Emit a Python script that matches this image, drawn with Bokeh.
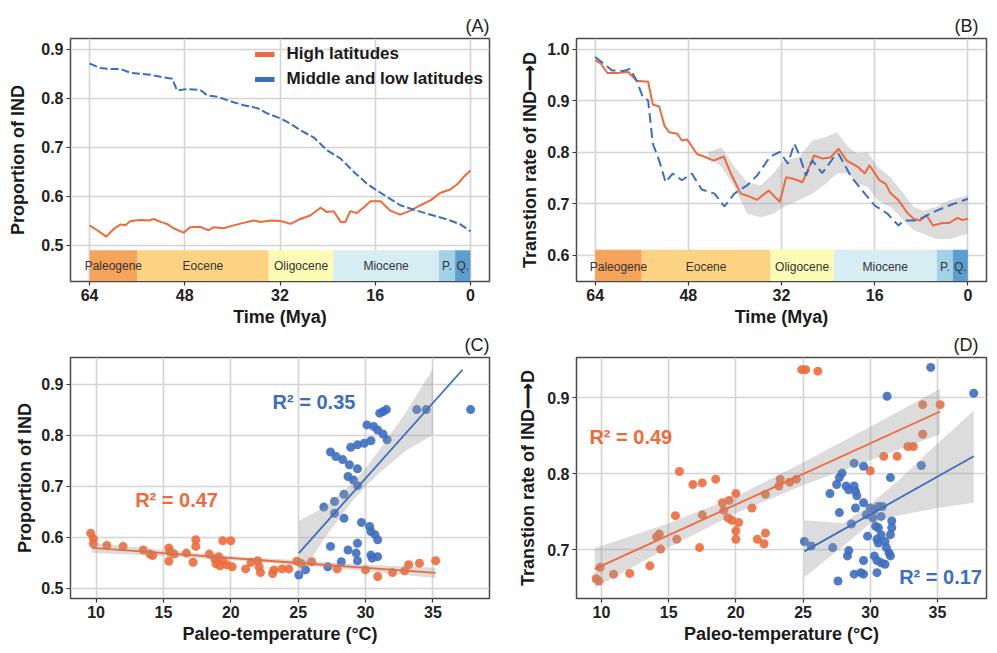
from bokeh.plotting import figure
from bokeh.layouts import column, row
from bokeh.models import Range1d, FixedTicker, PrintfTickFormatter, Legend, LegendItem
from bokeh.core.properties import value
from bokeh.embed import file_html
from bokeh.resources import INLINE

# ---------------- data ----------------
# Geological epochs (Mya)
epoch_names = ["Paleogene", "Eocene", "Oligocene", "Miocene", "P.", "Q."]
epoch_start = [64, 56.0, 33.9, 23.03, 5.33, 2.58]
epoch_end = [56.0, 33.9, 23.03, 5.33, 2.58, 0]
epoch_colors = ["#F6A35C", "#FDD383", "#FEFBB4", "#D6EDF4", "#A3D1E6", "#5C9FCE"]
time_ticks = [64, 48, 32, 16, 0]

# (A) proportion of IND
a_high_t = [64, 62.7, 61.2, 59.9, 58.8, 58.0, 57.1, 55.4, 54.0, 53.2, 52.1, 51.0, 49.9, 48.2, 47.1,
            45.4, 44.0, 43.2, 41.5, 39.8, 38.1, 36.4, 35.3, 33.6, 31.9, 30.2, 28.6, 26.9, 25.2, 24.1,
            23.0, 21.8, 21.0, 20.2, 19.1, 17.9, 16.8, 15.1, 13.5, 11.8, 10.1, 8.4, 6.7, 5.1, 3.4,
            2.0, 1.2, 0]
a_high = [0.541, 0.531, 0.518, 0.534, 0.543, 0.541, 0.550, 0.552, 0.551, 0.554, 0.548, 0.544, 0.535,
          0.526, 0.537, 0.538, 0.531, 0.537, 0.535, 0.541, 0.546, 0.551, 0.548, 0.551, 0.550, 0.544,
          0.554, 0.561, 0.577, 0.568, 0.570, 0.548, 0.548, 0.570, 0.566, 0.578, 0.590, 0.590, 0.571,
          0.563, 0.571, 0.582, 0.592, 0.607, 0.614, 0.627, 0.639, 0.653]
a_mid_t = [64, 62.2, 60.5, 58.8, 57.1, 55.4, 53.8, 52.1, 50.1, 49.3, 47.6, 45.4, 44.2, 42.5, 39.8,
           38.1, 35.8, 34.1, 31.9, 30.2, 28.6, 26.3, 24.1, 21.8, 19.6, 17.4, 15.7, 14.0, 11.8, 9.0,
           6.2, 3.4, 1.7, 0]
a_mid = [0.871, 0.862, 0.860, 0.860, 0.852, 0.850, 0.848, 0.844, 0.840, 0.816, 0.819, 0.817, 0.806,
         0.803, 0.792, 0.786, 0.780, 0.769, 0.759, 0.748, 0.735, 0.720, 0.694, 0.677, 0.650, 0.626,
         0.612, 0.599, 0.582, 0.571, 0.561, 0.551, 0.543, 0.529]

# (B) transition rate IND -> D
b_high_t = [64, 63.0, 61.9, 60.3, 58.3, 56.9, 54.9, 54.1, 53.0, 52.1, 51.3, 49.9, 49.1, 48.2, 46.5,
            45.1, 43.7, 41.9, 40.7, 39.0, 37.9, 36.2, 34.2, 32.3, 31.2, 30.0, 28.4, 26.4, 25.0, 23.6,
            22.2, 20.8, 18.9, 17.7, 16.9, 15.2, 14.1, 13.3, 11.9, 10.5, 9.3, 8.2, 7.1, 6.0, 4.3,
            3.2, 1.8, 1.0, 0]
b_high = [0.979, 0.972, 0.954, 0.954, 0.956, 0.939, 0.937, 0.893, 0.889, 0.852, 0.839, 0.836, 0.823,
          0.825, 0.797, 0.791, 0.784, 0.792, 0.759, 0.720, 0.716, 0.708, 0.726, 0.704, 0.752, 0.749,
          0.742, 0.794, 0.788, 0.790, 0.807, 0.784, 0.772, 0.759, 0.775, 0.746, 0.739, 0.721, 0.707,
          0.684, 0.671, 0.668, 0.678, 0.658, 0.663, 0.663, 0.673, 0.669, 0.671]
b_mid_t = [64, 62.5, 61.1, 59.1, 58.0, 56.9, 55.8, 54.9, 54.1, 53.0, 51.9, 50.7, 49.1, 47.4, 45.7,
           43.5, 41.8, 40.1, 37.9, 36.2, 34.0, 32.3, 30.9, 29.8, 29.0, 27.8, 26.7, 25.0, 22.8, 22.2,
           20.0, 17.7, 16.0, 13.8, 11.9, 11.0, 8.8, 7.7, 6.0, 3.2, 0]
b_mid = [0.985, 0.972, 0.959, 0.958, 0.962, 0.940, 0.907, 0.901, 0.817, 0.784, 0.742, 0.759, 0.746,
         0.759, 0.728, 0.720, 0.695, 0.720, 0.736, 0.755, 0.791, 0.801, 0.778, 0.817, 0.797, 0.755,
         0.784, 0.760, 0.794, 0.797, 0.752, 0.720, 0.697, 0.681, 0.658, 0.668, 0.668, 0.674, 0.684,
         0.697, 0.710]
b_band_t = [44.6, 42.3, 40.1, 37.9, 35.6, 33.4, 31.7, 29.0, 26.7, 24.4, 22.5, 20.5, 18.9, 17.2, 15.5,
            13.3, 11.0, 9.3, 7.7, 5.4, 3.2, 0]
b_band_hi = [0.801, 0.810, 0.772, 0.742, 0.736, 0.759, 0.784, 0.791, 0.823, 0.830, 0.839, 0.810, 0.797,
             0.801, 0.772, 0.752, 0.720, 0.694, 0.687, 0.694, 0.707, 0.717]
b_band_lo = [0.791, 0.772, 0.733, 0.681, 0.674, 0.681, 0.694, 0.707, 0.720, 0.739, 0.759, 0.759, 0.739,
             0.733, 0.707, 0.694, 0.668, 0.649, 0.642, 0.632, 0.632, 0.642]

# (C) proportion of IND vs paleo-temperature
c_high_temp = [9.6, 9.8, 9.8, 10.8, 12.0, 13.5, 14.0, 14.2, 15.4, 15.5, 15.4, 15.8, 16.7, 17.2, 17.4,
               17.4, 18.4, 18.8, 19.1, 18.9, 19.2, 19.4, 20.0, 19.4, 19.7, 20.1, 21.1, 21.5, 22.0, 22.1,
               22.2, 23.1, 23.2, 23.8, 24.3, 24.9, 25.2, 26.0, 27.9, 30.0, 30.9, 32.0, 32.9, 33.2, 34.0,
               35.2]
c_high = [0.608, 0.597, 0.587, 0.584, 0.582, 0.575, 0.567, 0.564, 0.579, 0.571, 0.553, 0.567, 0.569,
          0.551, 0.595, 0.582, 0.567, 0.558, 0.562, 0.548, 0.544, 0.593, 0.593, 0.554, 0.546, 0.542,
          0.538, 0.551, 0.554, 0.542, 0.531, 0.529, 0.536, 0.538, 0.538, 0.553, 0.549, 0.552, 0.538,
          0.536, 0.523, 0.531, 0.534, 0.546, 0.549, 0.554]
c_mid_temp = [25.05, 25.55, 27.2, 28.2, 27.4, 28.7, 29.4, 29.3, 29.4, 30.4, 30.9, 30.5, 29.7, 30.3, 30.4,
              30.7, 30.9, 28.4, 27.7, 26.9, 27.7, 28.4, 28.7, 29.1, 29.4, 29.4, 28.8, 28.3, 27.8, 27.4,
              28.9, 29.4, 29.9, 30.4, 30.1, 30.6, 30.9, 31.3, 31.6, 31.05, 31.3, 31.55, 33.8, 34.5, 37.8]
c_mid = [0.526, 0.536, 0.542, 0.552, 0.582, 0.575, 0.588, 0.569, 0.554, 0.565, 0.562, 0.559, 0.629,
         0.621, 0.611, 0.605, 0.595, 0.637, 0.647, 0.659, 0.670, 0.684, 0.719, 0.712, 0.701, 0.734,
         0.742, 0.752, 0.758, 0.767, 0.776, 0.781, 0.784, 0.789, 0.820, 0.817, 0.810, 0.802, 0.791,
         0.843, 0.846, 0.850, 0.850, 0.850, 0.850]
c_high_fit_x = [9.7, 35.2]
c_high_fit_y = [0.579, 0.530]
c_high_band_x = [9.7, 15, 20, 25, 30, 35.2]
c_high_band_lo = [0.569, 0.563, 0.555, 0.545, 0.534, 0.520]
c_high_band_hi = [0.589, 0.575, 0.563, 0.555, 0.546, 0.540]
c_mid_fit_x = [25.05, 37.2]
c_mid_fit_y = [0.569, 0.928]
c_mid_band_x = [25.05, 27, 29, 30, 31, 33, 35]
c_mid_band_lo = [0.520, 0.600, 0.670, 0.700, 0.725, 0.770, 0.800]
c_mid_band_hi = [0.632, 0.660, 0.705, 0.735, 0.770, 0.845, 0.930]
c_r2 = ["R\u00b2 = 0.47", "R\u00b2 = 0.35"]

# (D) transition rate vs paleo-temperature
d_high_temp = [9.6, 9.8, 9.9, 10.9, 12.1, 13.6, 14.4, 14.1, 14.3, 15.6, 15.5, 15.8, 16.8, 17.5, 17.3,
               17.5, 18.5, 19.0, 19.5, 19.1, 19.4, 19.7, 20.2, 20.0, 20.0, 20.0, 21.2, 21.6, 22.1, 22.2,
               22.2, 23.2, 23.3, 24.0, 24.5, 24.9, 25.2, 26.1, 33.9, 35.2, 33.9, 32.8, 33.2, 31.0, 32.0,
               30.0]
d_high = [0.662, 0.659, 0.677, 0.668, 0.669, 0.679, 0.701, 0.717, 0.721, 0.714, 0.745, 0.803, 0.786,
          0.788, 0.703, 0.746, 0.793, 0.762, 0.765, 0.752, 0.742, 0.739, 0.736, 0.774, 0.725, 0.714,
          0.755, 0.714, 0.708, 0.722, 0.773, 0.784, 0.793, 0.789, 0.793, 0.937, 0.937, 0.935, 0.891,
          0.891, 0.852, 0.836, 0.836, 0.823, 0.823, 0.804]
d_mid_temp = [34.5, 37.7, 31.25, 33.8, 31.5, 29.5, 28.8, 27.9, 27.7, 27.5, 28.2, 28.4, 28.8, 28.9, 29.0,
              27.0, 27.7, 28.6, 28.9, 29.5, 30.0, 30.3, 30.6, 30.9, 29.7, 30.2, 30.8, 30.4, 30.6, 31.6,
              31.6, 31.5, 30.8, 30.5, 30.6, 31.1, 29.8, 25.1, 25.6, 27.2, 28.4, 28.3, 31.2, 31.4, 31.5,
              29.5, 30.3, 30.5, 30.8, 31.1, 30.5, 29.3, 28.8, 29.5, 27.6]
d_mid = [0.940, 0.906, 0.902, 0.811, 0.795, 0.810, 0.814, 0.801, 0.795, 0.786, 0.784, 0.779, 0.784,
         0.777, 0.771, 0.774, 0.749, 0.734, 0.755, 0.762, 0.755, 0.753, 0.757, 0.757, 0.746, 0.742,
         0.744, 0.731, 0.729, 0.738, 0.729, 0.720, 0.720, 0.714, 0.709, 0.711, 0.718, 0.711, 0.705,
         0.703, 0.699, 0.692, 0.703, 0.696, 0.692, 0.686, 0.692, 0.686, 0.683, 0.681, 0.670, 0.670,
         0.668, 0.668, 0.659]
d_high_fit_x = [9.5, 35.2]
d_high_fit_y = [0.675, 0.882]
d_high_band_x = [9.5, 15, 20, 25, 30, 35.2]
d_high_band_lo = [0.650, 0.703, 0.748, 0.785, 0.818, 0.852]
d_high_band_hi = [0.702, 0.735, 0.770, 0.815, 0.862, 0.912]
d_mid_fit_x = [25.1, 37.7]
d_mid_fit_y = [0.698, 0.823]
d_mid_band_x = [25.1, 28, 30, 32, 35, 37.7]
d_mid_band_lo = [0.664, 0.705, 0.735, 0.745, 0.755, 0.762]
d_mid_band_hi = [0.739, 0.735, 0.760, 0.790, 0.840, 0.883]
d_r2 = ["R\u00b2 = 0.49", "R\u00b2 = 0.17"]

legend_labels = ["High latitudes", "Middle and low latitudes"]

# ---------------- styling ----------------
FONT = "Liberation Sans"
RED = "#EE6A3B"
BLUE = "#3C6EBF"
BAND = "#9A9A9A"
RATE_LABEL = "Transtion rate of IND\u27f6D"


def make_fig(w, h, xr, yr, title, bl, br, bt, bb, xlab, ylab, xticks, yticks, ystand):
    p = figure(width=w, height=h, x_range=Range1d(*xr), y_range=Range1d(*yr),
               output_backend="svg", toolbar_location=None, tools="",
               min_border_left=bl, min_border_right=br, min_border_top=bt, min_border_bottom=bb,
               title=title)
    p.title.align = "right"
    p.title.text_font = FONT
    p.title.text_font_size = "18px"
    p.title.text_font_style = "normal"
    p.title.text_color = "#222222"
    p.title.standoff = 5
    p.xaxis.axis_label = xlab
    p.yaxis.axis_label = ylab
    p.xaxis.ticker = FixedTicker(ticks=xticks)
    p.yaxis.ticker = FixedTicker(ticks=yticks)
    p.yaxis.formatter = PrintfTickFormatter(format="%.1f")
    p.xaxis.formatter = PrintfTickFormatter(format="%d")
    for ax in (p.xaxis, p.yaxis):
        ax.axis_label_text_font = FONT
        ax.axis_label_text_font_size = "18px"
        ax.axis_label_text_font_style = "bold"
        ax.axis_label_text_color = "#1a1a1a"
        ax.major_label_text_font = FONT
        ax.major_label_text_font_size = "16px"
        ax.major_label_text_font_style = "bold"
        ax.major_label_text_color = "#222222"
        ax.axis_line_color = None
        ax.major_tick_in = 0
        ax.major_tick_out = 4
        ax.major_tick_line_color = "#333333"
        ax.major_tick_line_width = 1.2
        ax.minor_tick_in = 0
        ax.minor_tick_out = 0
        ax.major_label_standoff = 3
    p.xaxis.axis_label_standoff = 3
    p.yaxis.axis_label_standoff = ystand
    p.grid.grid_line_color = "#D4D4D4"
    p.grid.grid_line_width = 1.6
    p.outline_line_color = "#4a4a4a"
    p.outline_line_width = 1.5
    p.background_fill_color = "white"
    p.border_fill_color = "white"
    return p


def add_epochs(p, ytop, ybot, ytext):
    p.quad(left=epoch_start, right=epoch_end, top=ytop, bottom=ybot,
           fill_color=epoch_colors, line_color=None)
    mids = [(a + b) / 2 for a, b in zip(epoch_start, epoch_end)]
    p.text(x=mids, y=[ytext] * len(mids), text=epoch_names, text_align="center",
           text_baseline="middle", text_font=value(FONT), text_font_size="12px",
           text_color="#333333")


# ---------------- (A) ----------------
pA = make_fig(500, 330, (67.2, -3.2), (0.4265, 0.922), "(A)", 70, 11, 38, 49,
              "Time (Mya)", "Proportion of IND", time_ticks, [0.5, 0.6, 0.7, 0.8, 0.9], 10)
add_epochs(pA, 0.49, 0.4275, 0.458)
pA.line(a_high_t, a_high, line_color=RED, line_width=2)
pA.line(a_mid_t, a_mid, line_color=BLUE, line_width=2, line_dash="8 3")
# legend keys: single-point lines (draw nothing in the plot, only in the legend)
lg_hi = pA.line([a_high_t[0]], [a_high[0]], line_color=RED, line_width=5)
lg_mid = pA.line([a_mid_t[0]], [a_mid[0]], line_color=BLUE, line_width=5)
legend = Legend(items=[LegendItem(label=legend_labels[0], renderers=[lg_hi]),
                       LegendItem(label=legend_labels[1], renderers=[lg_mid])],
                location="top_right")
legend.label_text_font = FONT
legend.label_text_font_size = "17px"
legend.label_text_font_style = "bold"
legend.label_text_color = "#1a1a1a"
legend.glyph_width = 20
legend.glyph_height = 20
legend.label_height = 20
legend.label_standoff = 12
legend.spacing = 5
legend.padding = 3
legend.margin = 3
legend.background_fill_alpha = 0
legend.border_line_alpha = 0
pA.add_layout(legend)

# ---------------- (B) ----------------
pB = make_fig(497, 330, (67.2, -3.2), (0.5495, 1.021), "(B)", 76, 11, 38, 49,
              "Time (Mya)", RATE_LABEL, time_ticks,
              [0.6, 0.7, 0.8, 0.9, 1.0], 4)
pB.title.offset = 8
add_epochs(pB, 0.611, 0.5505, 0.578)
pB.varea(x=b_band_t, y1=b_band_lo, y2=b_band_hi, fill_color=BAND, fill_alpha=0.35)
pB.line(b_high_t, b_high, line_color=RED, line_width=2)
pB.line(b_mid_t, b_mid, line_color=BLUE, line_width=2, line_dash="10 5")

# ---------------- (C) ----------------
pC = make_fig(500, 323, (8.1, 39.2), (0.48, 0.952), "(C)", 70, 11, 26, 55,
              "Paleo-temperature (\u00b0C)", "Proportion of IND", [10, 15, 20, 25, 30, 35],
              [0.5, 0.6, 0.7, 0.8, 0.9], 3)
pC.scatter(c_high_temp, c_high, size=9, fill_color=RED, fill_alpha=0.9, line_color=None)
pC.scatter(c_mid_temp, c_mid, size=9, fill_color=BLUE, fill_alpha=0.9, line_color=None)
pC.varea(x=c_high_band_x, y1=c_high_band_lo, y2=c_high_band_hi, fill_color=BAND, fill_alpha=0.35)
pC.varea(x=c_mid_band_x, y1=c_mid_band_lo, y2=c_mid_band_hi, fill_color=BAND, fill_alpha=0.35)
pC.line(c_high_fit_x, c_high_fit_y, line_color=RED, line_width=1.8)
pC.line(c_mid_fit_x, c_mid_fit_y, line_color=BLUE, line_width=1.8)
pC.text(x=[12.9], y=[0.672], text=[c_r2[0]], text_align="left", text_baseline="middle",
        text_font=value(FONT), text_font_size="20px", text_font_style="bold", text_color=RED)
pC.text(x=[23.1], y=[0.865], text=[c_r2[1]], text_align="left", text_baseline="middle",
        text_font=value(FONT), text_font_size="20px", text_font_style="bold", text_color=BLUE)

# ---------------- (D) ----------------
pD = make_fig(497, 323, (8.14, 38.65), (0.636, 0.953), "(D)", 76, 11, 26, 55,
              "Paleo-temperature (\u00b0C)", RATE_LABEL,
              [10, 15, 20, 25, 30, 35], [0.7, 0.8, 0.9], 6)
pD.title.offset = 8
pD.scatter(d_high_temp, d_high, size=9, fill_color=RED, fill_alpha=0.9, line_color=None)
pD.scatter(d_mid_temp, d_mid, size=9, fill_color=BLUE, fill_alpha=0.9, line_color=None)
pD.varea(x=d_high_band_x, y1=d_high_band_lo, y2=d_high_band_hi, fill_color=BAND, fill_alpha=0.35)
pD.varea(x=d_mid_band_x, y1=d_mid_band_lo, y2=d_mid_band_hi, fill_color=BAND, fill_alpha=0.35)
pD.line(d_high_fit_x, d_high_fit_y, line_color=RED, line_width=1.8)
pD.line(d_mid_fit_x, d_mid_fit_y, line_color=BLUE, line_width=1.8)
pD.text(x=[9.1], y=[0.848], text=[d_r2[0]], text_align="left", text_baseline="middle",
        text_font=value(FONT), text_font_size="20px", text_font_style="bold", text_color=RED)
pD.text(x=[32.15], y=[0.664], text=[d_r2[1]], text_align="left", text_baseline="middle",
        text_font=value(FONT), text_font_size="20px", text_font_style="bold", text_color=BLUE)

layout = column(row(pA, pB), row(pC, pD))
open("out.html", "w").write(file_html(layout, INLINE))
